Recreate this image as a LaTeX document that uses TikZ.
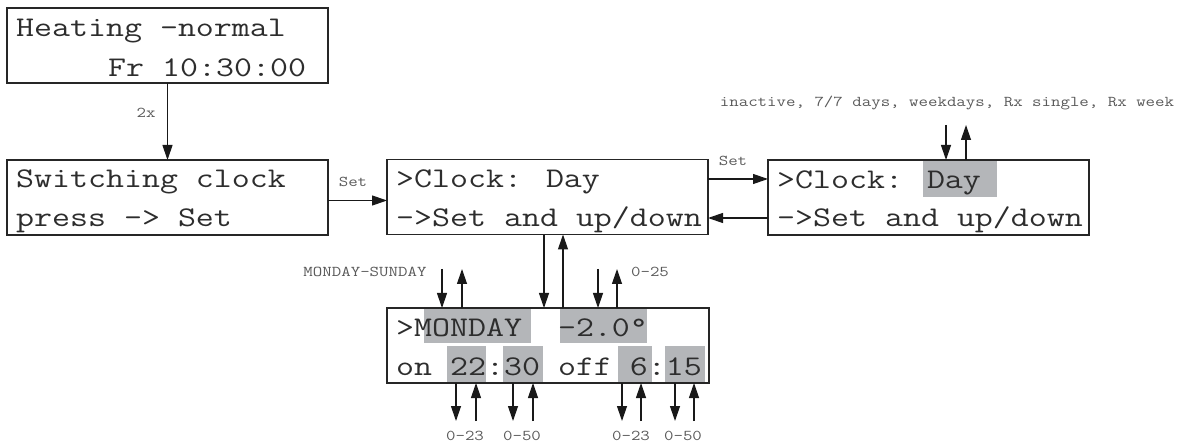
\documentclass[tikz,border=0pt]{standalone}
\usepackage{fontspec}
\usepackage{graphicx}
\usetikzlibrary{arrows.meta}
\definecolor{hl}{RGB}{180,182,185}
\definecolor{txt}{RGB}{45,45,45}
\definecolor{lbl}{RGB}{90,90,90}
\newcommand{\wide}[1]{\scalebox{1.225}[1]{#1}}
\tikzset{
  lcdbox/.style={draw=black!85, line width=1.2pt, minimum width=321pt, minimum height=75pt, anchor=north west, inner sep=0pt, outer sep=0pt},
  row/.style={anchor=base west, inner sep=0pt, text=txt, font=\ttfamily\fontsize{28.5pt}{28.5pt}\selectfont},
  lab/.style={anchor=base, inner sep=0pt, text=lbl, font=\ttfamily\fontsize{15pt}{15pt}\selectfont},
  arr/.style={line width=1.2pt, draw=black!90, -{Triangle[length=15pt,width=10pt]}},
  hlbox/.style={fill=hl, draw=none}
}
\begin{document}
\begin{tikzpicture}[x=1pt,y=-1pt]
\useasboundingbox (0,0) rectangle (1186,446);
% highlights
\fill[hlbox] (923,160) rectangle (997,197);
\fill[hlbox] (424,309) rectangle (531,343);
\fill[hlbox] (560,309) rectangle (647,343);
\fill[hlbox] (447,346) rectangle (486,382);
\fill[hlbox] (503,346) rectangle (543,382);
\fill[hlbox] (618,346) rectangle (652,382);
\fill[hlbox] (665,346) rectangle (705,382);
% boxes
\node[lcdbox] (b1) at (7,8) {};
\node[lcdbox] (b2) at (7,160) {};
\node[lcdbox] (b3) at (387,159.5) {};
\node[lcdbox] (b4) at (768,160) {};
\node[lcdbox, minimum width=322pt] (b5) at (387,308) {};
% texts
\node[row] (t11) at (16,37) {\wide{Heating -normal}};
\node[row] (t12) at (108,77) {\wide{Fr 10:30:00}};
\node[row] (t21) at (16,188) {\wide{Switching clock}};
\node[row] (t22) at (16,227) {\wide{press -> Set}};
\node[row] (t31) at (396,188) {\wide{>Clock: Day}};
\node[row] (t32) at (396,227) {\wide{->Set and up/down}};
\node[row] (t41) at (777,189) {\wide{>Clock: Day}};
\node[row] (t42) at (777,227) {\wide{->Set and up/down}};
\node[row] (t51) at (396,337) {\wide{>MONDAY\ \ -2.0°}};
\node[row] (t52) at (396,375) {\wide{on 22:30 off 6:15}};
% labels
\node[lab] (l2x) at (146,118) {\wide{2x}};
\node[lab] (lset1) at (353,187) {\wide{Set}};
\node[lab] (lset2) at (733,166) {\wide{Set}};
\node[lab] (lmode) at (947,107) {\wide{inactive, 7/7 days, weekdays, Rx single, Rx week}};
\node[lab] (lday) at (365,277) {\wide{MONDAY-SUNDAY}};
\node[lab] (ltemp) at (650,277) {\wide{0-25}};
\node[lab] (lh1) at (465,440) {\wide{0-23}};
\node[lab] (lm1) at (522,440) {\wide{0-50}};
\node[lab] (lh2) at (631,440) {\wide{0-23}};
\node[lab] (lm2) at (683,440) {\wide{0-50}};
% main connectors
\draw[arr] (b1.south) -- (b2.north -| b1.south);
\coordinate (p23) at (328,200.5);
\draw[arr] (p23) -- (p23 -| b3.west);
\coordinate (p34) at (708,179);
\draw[arr] (p34) -- (p34 -| b4.west);
\coordinate (p43) at (768,218);
\draw[arr] (p43) -- (p43 -| b3.east);
\coordinate (p35d) at (544,235);
\draw[arr] (p35d) -- (p35d |- b5.north);
\coordinate (p53u) at (563,308);
\draw[arr] (p53u) -- (p53u |- b3.south);
% up/down arrows above box 4
\coordinate (m4d) at (946,125);
\coordinate (m4u) at (966,125);
\draw[arr] (m4d) -- (m4d |- b4.north);
\draw[arr] (m4u |- b4.north) -- (m4u);
% up/down arrows above box 5
\coordinate (d5a) at (442,269);
\coordinate (u5a) at (462,269);
\coordinate (d5b) at (598,269);
\coordinate (u5b) at (617,269);
\draw[arr] (d5a) -- (d5a |- b5.north);
\draw[arr] (u5a |- b5.north) -- (u5a);
\draw[arr] (d5b) -- (d5b |- b5.north);
\draw[arr] (u5b |- b5.north) -- (u5b);
% below box 5
\coordinate (e1) at (456,421);
\coordinate (f1) at (476,421);
\coordinate (e2) at (513,421);
\coordinate (f2) at (533,421);
\coordinate (e3) at (622,421);
\coordinate (f3) at (641,421);
\coordinate (e4) at (675,421);
\coordinate (f4) at (694,421);
\draw[arr] (e1 |- b5.south) -- (e1);
\draw[arr] (f1) -- (f1 |- b5.south);
\draw[arr] (e2 |- b5.south) -- (e2);
\draw[arr] (f2) -- (f2 |- b5.south);
\draw[arr] (e3 |- b5.south) -- (e3);
\draw[arr] (f3) -- (f3 |- b5.south);
\draw[arr] (e4 |- b5.south) -- (e4);
\draw[arr] (f4) -- (f4 |- b5.south);
\end{tikzpicture}
\end{document}
